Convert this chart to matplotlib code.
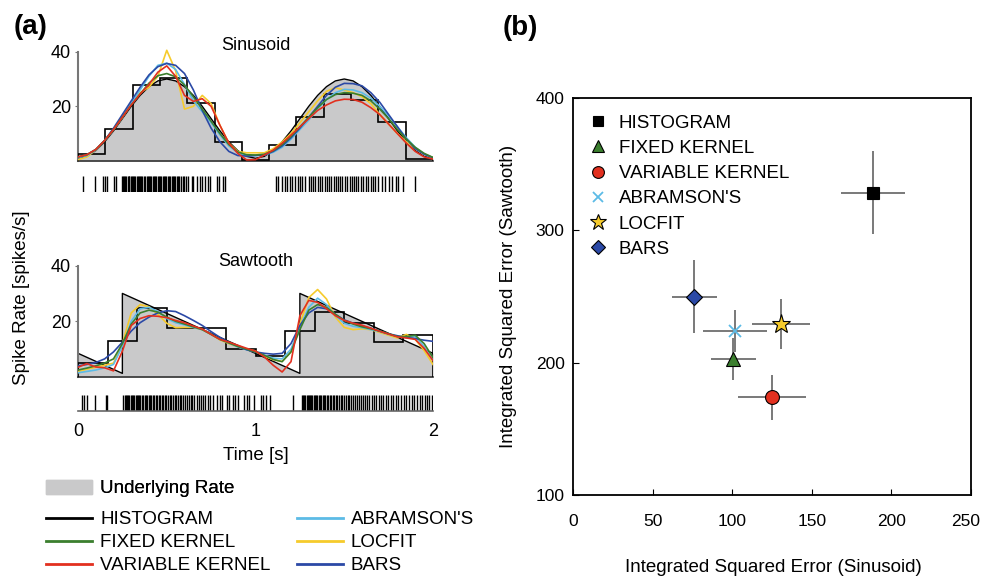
import numpy as np
import matplotlib
matplotlib.use('Agg')
import matplotlib.pyplot as plt
from matplotlib.patches import Patch
from matplotlib.lines import Line2D
from matplotlib.transforms import ScaledTranslation

plt.rcParams['font.family'] = ['Liberation Sans', 'DejaVu Sans']

# ---- panel (a): rate estimates, sampled every 0.05 s from 0 to 2 s ----
t = np.linspace(0, 2, 41)

sin_true = [1.0, 1.7, 3.8, 7.0, 11.0, 15.5, 20.0, 24.0, 27.2, 29.3, 30.0,
            29.3, 27.2, 24.0, 20.0, 15.5, 11.0, 7.0, 3.8, 1.7, 1.0,
            1.7, 3.8, 7.0, 11.0, 15.5, 20.0, 24.0, 27.2, 29.3, 30.0,
            29.3, 27.2, 24.0, 20.0, 15.5, 11.0, 7.0, 3.8, 1.7, 1.0]
sin_hist = [2.5, 11.6, 27.8, 30.3, 21.2, 7.0, 0.5, 5.8, 16.1, 24.6, 22.2, 14.2, 0.7]
sin_fixed = [1.5, 2.3, 4.2, 7.5, 11.5, 16.0, 20.5, 24.5, 28.5, 31.2, 32.0,
             30.8, 27.8, 23.5, 19.0, 14.5, 10.0, 6.0, 3.3, 2.3, 2.2,
             2.5, 3.8, 6.0, 9.0, 12.5, 16.0, 19.5, 22.5, 24.3, 25.0,
             24.8, 24.0, 22.0, 19.0, 15.5, 11.5, 8.0, 5.0, 2.8, 1.3]
sin_var = [1.5, 2.3, 4.2, 7.5, 11.5, 16.0, 20.5, 24.5, 28.0, 32.5, 34.8,
           31.0, 24.0, 21.8, 22.8, 20.0, 13.0, 6.5, 2.8, 0.4, 0.5,
           2.2, 4.0, 6.5, 9.5, 12.5, 15.5, 18.5, 20.5, 22.0, 22.6,
           22.5, 21.5, 19.5, 17.0, 13.5, 10.0, 6.5, 3.5, 1.5, 0.7]
sin_abram = [1.2, 2.0, 4.0, 7.5, 11.5, 16.0, 21.0, 26.0, 31.0, 35.0, 35.8,
             33.5, 28.0, 22.0, 18.0, 14.0, 9.5, 5.5, 3.0, 2.0, 2.0,
             2.2, 3.2, 5.0, 8.0, 11.5, 15.0, 19.0, 22.5, 25.0, 26.2,
             26.0, 25.0, 23.0, 20.0, 16.5, 12.5, 8.5, 5.0, 2.5, 1.0]
sin_locfit = [0.5, 1.5, 4.0, 7.5, 11.5, 16.0, 21.0, 25.0, 27.0, 31.0, 40.5,
              33.0, 19.0, 20.0, 24.0, 21.0, 13.0, 6.5, 3.5, 3.0, 3.0,
              3.0, 4.5, 7.0, 10.0, 14.0, 18.0, 22.0, 25.5, 26.8, 26.0,
              25.0, 23.5, 21.0, 17.0, 13.5, 10.0, 7.0, 4.5, 2.5, 1.2]
sin_bars = [1.5, 2.3, 4.2, 7.5, 12.0, 17.0, 22.0, 27.0, 31.5, 34.5, 35.7,
            35.0, 32.0, 26.0, 18.5, 12.0, 7.0, 3.5, 2.0, 1.8, 2.0,
            2.2, 3.5, 5.5, 8.5, 12.0, 16.0, 20.0, 24.0, 27.0, 28.4,
            28.3, 27.5, 25.0, 21.5, 17.0, 12.5, 8.0, 4.5, 2.5, 1.2]

saw_true_t = [0.0, 0.25, 0.25, 1.25, 1.25, 2.0]
saw_true = [8.5, 1.3, 30.0, 1.3, 30.0, 8.5]
saw_hist = [5.0, 12.9, 24.9, 17.7, 17.5, 10.2, 7.5, 16.6, 23.4, 19.5, 12.6, 15.2]
saw_fixed = [2.5, 3.2, 4.0, 5.0, 6.5, 12.0, 19.0, 23.0, 24.0, 23.3, 21.5,
             20.0, 19.0, 18.0, 17.0, 15.3, 13.5, 12.2, 11.0, 10.0, 9.0,
             7.8, 6.3, 5.5, 9.0, 17.0, 24.0, 26.0, 25.0, 22.5, 20.3,
             19.0, 18.0, 17.3, 16.5, 15.5, 14.5, 14.5, 15.0, 12.0, 7.0]
saw_var = [3.5, 4.8, 3.6, 3.3, 2.2, 9.3, 18.5, 21.0, 22.0, 21.8, 21.3,
           20.3, 19.5, 18.3, 17.2, 15.3, 13.5, 12.5, 11.4, 10.3, 9.3,
           7.2, 4.2, 1.8, 5.5, 22.0, 27.5, 26.8, 24.5, 22.0, 20.3,
           19.3, 18.6, 17.5, 16.4, 15.4, 14.4, 14.0, 13.5, 10.3, 5.9]
saw_abram = [1.5, 2.0, 2.5, 3.3, 4.5, 11.0, 20.0, 24.5, 25.0, 23.5, 21.0,
             19.5, 18.7, 17.8, 17.0, 15.3, 13.5, 12.2, 10.8, 9.8, 9.0,
             7.8, 6.8, 6.5, 10.0, 18.0, 25.0, 28.3, 26.0, 22.0, 19.3,
             18.2, 17.7, 17.0, 16.3, 15.3, 14.5, 14.2, 14.5, 11.0, 6.0]
saw_locfit = [2.0, 2.8, 3.5, 4.2, 5.0, 12.0, 23.0, 26.0, 25.2, 22.5, 19.3,
              17.7, 17.8, 17.8, 17.0, 15.3, 13.3, 12.0, 10.8, 10.0, 9.3,
              7.5, 6.2, 5.6, 9.0, 19.0, 28.5, 31.4, 28.0, 21.5, 17.8,
              17.0, 17.3, 17.0, 16.0, 15.0, 14.0, 15.3, 13.5, 9.5, 4.5]
saw_bars = [4.0, 4.5, 5.2, 6.5, 9.0, 12.5, 16.5, 19.5, 21.5, 23.0, 23.8,
            23.5, 22.0, 20.3, 18.5, 16.3, 14.2, 12.5, 11.0, 9.8, 9.0,
            8.5, 8.2, 8.5, 12.0, 18.5, 23.0, 25.0, 24.5, 22.5, 20.5,
            19.3, 18.3, 17.5, 16.5, 15.5, 14.8, 14.2, 13.8, 13.2, 12.8]

# spike trains (s)
sin_spikes = [0.026, 0.096, 0.14, 0.15, 0.165, 0.2, 0.214,
              0.248, 0.254, 0.259, 0.266, 0.272, 0.279, 0.285, 0.29, 0.297,
              0.303, 0.31, 0.318, 0.323, 0.33, 0.336, 0.343, 0.35, 0.357,
              0.362, 0.37, 0.378, 0.386, 0.392, 0.4, 0.407, 0.412, 0.42,
              0.428, 0.435, 0.441, 0.449, 0.456, 0.462, 0.47, 0.478, 0.485,
              0.492, 0.498, 0.505, 0.512, 0.52, 0.527, 0.535, 0.541, 0.549,
              0.556, 0.563, 0.571, 0.58, 0.59, 0.598, 0.607,
              0.622, 0.64, 0.65, 0.668, 0.685, 0.7, 0.715, 0.73, 0.745,
              0.785, 0.797, 0.815, 0.83,
              1.113, 1.128, 1.15, 1.165, 1.18, 1.195, 1.205, 1.22, 1.24,
              1.25, 1.262, 1.28, 1.3, 1.315, 1.325, 1.338, 1.35, 1.362,
              1.375, 1.39, 1.4, 1.412, 1.425, 1.44, 1.452, 1.465, 1.475,
              1.49, 1.503, 1.515, 1.53, 1.542, 1.555, 1.568, 1.58, 1.593,
              1.605, 1.62, 1.635, 1.648, 1.66, 1.675, 1.69, 1.71, 1.73,
              1.75, 1.77, 1.79, 1.805, 1.83, 1.9]
saw_spikes = [0.023, 0.035, 0.05, 0.095, 0.157, 0.165,
              0.255, 0.262, 0.268, 0.275, 0.283, 0.29, 0.296, 0.303, 0.31,
              0.318, 0.325, 0.331, 0.338, 0.346, 0.352, 0.36, 0.368, 0.375,
              0.383, 0.39, 0.398, 0.405, 0.414, 0.422, 0.43, 0.438, 0.447,
              0.455, 0.463, 0.472, 0.48, 0.49, 0.498, 0.507, 0.516, 0.525,
              0.535, 0.544, 0.553, 0.563, 0.573, 0.582, 0.592, 0.602, 0.613,
              0.623, 0.634, 0.645, 0.656, 0.668, 0.68, 0.692, 0.705, 0.718,
              0.731, 0.745, 0.758,
              0.785, 0.8, 0.812, 0.84, 0.85, 0.872, 0.885, 0.9, 0.935, 0.95,
              0.965, 0.99, 1.03, 1.045, 1.06, 1.08,
              1.21,
              1.262, 1.268, 1.275, 1.281, 1.288, 1.295, 1.301, 1.308, 1.314,
              1.321, 1.328, 1.335, 1.342, 1.349, 1.356, 1.364, 1.371, 1.379,
              1.386, 1.394, 1.402, 1.41, 1.418, 1.427, 1.435, 1.444, 1.452,
              1.461, 1.47, 1.48, 1.489, 1.499, 1.509, 1.519, 1.529, 1.54,
              1.55, 1.561, 1.572, 1.583, 1.595, 1.606, 1.618, 1.63, 1.642,
              1.655, 1.667, 1.68, 1.693, 1.706, 1.72, 1.733, 1.747, 1.761,
              1.775, 1.79, 1.805, 1.82, 1.835, 1.85, 1.865, 1.88, 1.895,
              1.91, 1.925, 1.94, 1.955, 1.968, 1.98, 1.993]

# ---- panel (b): integrated squared errors ----
methods = ['HISTOGRAM', 'FIXED KERNEL', 'VARIABLE KERNEL', "ABRAMSON'S", 'LOCFIT', 'BARS']
ise_sin = [188.6, 100.7, 125.0, 101.8, 130.7, 76.2]
ise_saw = [328.4, 202.7, 173.8, 223.9, 229.2, 249.8]
err_sin = [20.0, 14.3, 21.3, 19.9, 18.0, 14.1]
err_saw = [31.2, 16.0, 17.0, 15.7, 18.6, 27.7]

GRAY = '#c9c9ca'
COLORS = {'HISTOGRAM': 'black', 'FIXED KERNEL': '#3b7f2e', 'VARIABLE KERNEL': '#e2301f',
          "ABRAMSON'S": '#5cbbe6', 'LOCFIT': '#f6cb2c', 'BARS': '#2b49a6'}
MARKERS = {'HISTOGRAM': ('s', 8), 'FIXED KERNEL': ('^', 10), 'VARIABLE KERNEL': ('o', 10),
           "ABRAMSON'S": ('x', 8), 'LOCFIT': ('*', 14), 'BARS': ('D', 8)}


def rate_panel(ax, tt, true_rate, hist, curves, title, ty):
    ax.fill_between(tt, true_rate, 0, color=GRAY, lw=0, zorder=1)
    ax.plot(tt, true_rate, color='k', lw=1.0, zorder=2)
    ax.stairs(hist, np.linspace(0, 2, len(hist) + 1), color='k', lw=1.2, zorder=3)
    for name in ['LOCFIT', "ABRAMSON'S", 'BARS', 'FIXED KERNEL', 'VARIABLE KERNEL']:
        ax.plot(t, curves[name], color=COLORS[name], lw=1.2, zorder=4)
    ax.set_xlim(0, 2)
    ax.set_ylim(0, 42)
    ax.set_yticks([20, 40])
    ax.set_xticks([])
    for s in ['top', 'right']:
        ax.spines[s].set_visible(False)
    ax.spines['left'].set_bounds(0, 40)
    ax.spines['left'].set_color('#777777')
    ax.spines['left'].set_linewidth(1.5)
    ax.spines['bottom'].set_color('#333333')
    ax.spines['bottom'].set_linewidth(1.2)
    ax.tick_params(axis='y', labelsize=13, length=2.5, pad=2.5, color='#777777')
    ax.text(0.5, ty, title, transform=ax.transAxes, ha='center', va='center', fontsize=13)


def raster(ax, spikes, baseline):
    ax.vlines(spikes, 0, 1, color='k', lw=1.0)
    ax.set_xlim(0, 2)
    ax.set_ylim(0, 1)
    ax.set_yticks([])
    for s in ['top', 'right', 'left']:
        ax.spines[s].set_visible(False)
    if baseline:
        ax.spines['bottom'].set_color('#666666')
        ax.spines['bottom'].set_linewidth(1.2)
        ax.set_xticks([0, 1, 2])
        ax.tick_params(axis='x', length=0, labelsize=13, pad=9)
    else:
        ax.spines['bottom'].set_visible(False)
        ax.set_xticks([])


def main():
    fig = plt.figure(figsize=(9.83, 5.76), dpi=100)
    W, H = 983.0, 576.0

    def box(x0, x1, ytop, ybot):
        return [x0 / W, 1 - ybot / H, (x1 - x0) / W, (ybot - ytop) / H]

    ax_sin = fig.add_axes(box(78, 433, 46.2, 161))
    ax_sin_r = fig.add_axes(box(78, 433, 176, 192))
    ax_saw = fig.add_axes(box(78, 433, 260, 377))
    ax_saw_r = fig.add_axes(box(78, 433, 395, 411))
    ax_b = fig.add_axes(box(573, 971, 98, 495))

    rate_panel(ax_sin, t, sin_true, sin_hist,
               {'FIXED KERNEL': sin_fixed, 'VARIABLE KERNEL': sin_var, "ABRAMSON'S": sin_abram,
                'LOCFIT': sin_locfit, 'BARS': sin_bars}, 'Sinusoid', 1.01)
    rate_panel(ax_saw, saw_true_t, saw_true, saw_hist,
               {'FIXED KERNEL': saw_fixed, 'VARIABLE KERNEL': saw_var, "ABRAMSON'S": saw_abram,
                'LOCFIT': saw_locfit, 'BARS': saw_bars}, 'Sawtooth', 0.985)
    raster(ax_sin_r, sin_spikes, False)
    raster(ax_saw_r, saw_spikes, True)
    ax_saw_r.set_xlabel('Time [s]', fontsize=13.5)
    ax_saw_r.xaxis.set_label_coords(0.5, -2.25)

    fig.text(22 / W, 1 - 298 / H, 'Spike Rate [spikes/s]', rotation=90,
             ha='center', va='center', fontsize=13.5)
    fig.text(31 / W, 1 - 27 / H, '(a)', ha='center', va='center', fontsize=20, fontweight='bold')
    fig.text(520 / W, 1 - 28 / H, '(b)', ha='center', va='center', fontsize=20, fontweight='bold')

    # legends for panel (a)
    leg1 = fig.legend([Patch(color=GRAY)], ['Underlying Rate'], loc='upper left',
                      bbox_to_anchor=(46 / W, 1 - 480 / H), frameon=False, fontsize=13.5,
                      handlelength=2.45, handleheight=0.75, handletextpad=0.43,
                      borderpad=0, borderaxespad=0)
    line_handles = [Line2D([], [], color=COLORS[m], lw=2) for m in methods]
    fig.legend(line_handles, methods, loc='upper left', ncol=2,
               bbox_to_anchor=(46 / W, 1 - 511 / H), frameon=False, fontsize=13.5,
               handlelength=2.45, handletextpad=0.43, labelspacing=0.32,
               columnspacing=1.4, borderpad=0, borderaxespad=0)
    fig.add_artist(leg1)

    # panel (b)
    for i, m in enumerate(methods):
        ax_b.errorbar(ise_sin[i], ise_saw[i], xerr=err_sin[i], yerr=err_saw[i], fmt='none',
                      ecolor='#6e6e6e', elinewidth=1.3, capsize=0, zorder=2)
    for i, m in enumerate(methods):
        mk, ms = MARKERS[m]
        if mk == 'x':
            ax_b.plot(ise_sin[i], ise_saw[i], ls='none', marker=mk, ms=ms, color=COLORS[m],
                      mew=1.3, label=m, zorder=3)
        else:
            ax_b.plot(ise_sin[i], ise_saw[i], ls='none', marker=mk, ms=ms, mfc=COLORS[m],
                      mec='k', mew=0.8, label=m, zorder=3)
    ax_b.set_xlim(0, 250)
    ax_b.set_ylim(100, 400)
    ax_b.set_xticks([0, 50, 100, 150, 200, 250])
    ax_b.set_yticks([100, 200, 300, 400])
    ax_b.tick_params(axis='x', direction='in', length=4, labelsize=12.5, pad=14)
    ax_b.tick_params(axis='y', direction='in', length=4, labelsize=12.5, pad=6)
    for s in ax_b.spines.values():
        s.set_linewidth(1.3)
    # the last x label sits against the right figure edge, nudge it inwards
    last = ax_b.xaxis.get_major_ticks()[-1].label1
    last.set_transform(last.get_transform() + ScaledTranslation(-0.05, 0, fig.dpi_scale_trans))
    ax_b.set_xlabel('Integrated Squared Error (Sinusoid)', fontsize=13.5)
    ax_b.xaxis.set_label_coords(0.5025, -0.16)
    ax_b.set_ylabel('Integrated Squared Error (Sawtooth)', fontsize=13.5)
    ax_b.yaxis.set_label_coords(-0.141, 0.5)
    ax_b.legend(loc='upper left', bbox_to_anchor=(0.039, 0.958), frameon=False, fontsize=13.5,
                handlelength=1.0, handletextpad=0.62, labelspacing=0.43, numpoints=1,
                borderpad=0, borderaxespad=0, markerscale=0.85)

    fig.savefig('out.png', dpi=100)


if __name__ == '__main__':
    main()
